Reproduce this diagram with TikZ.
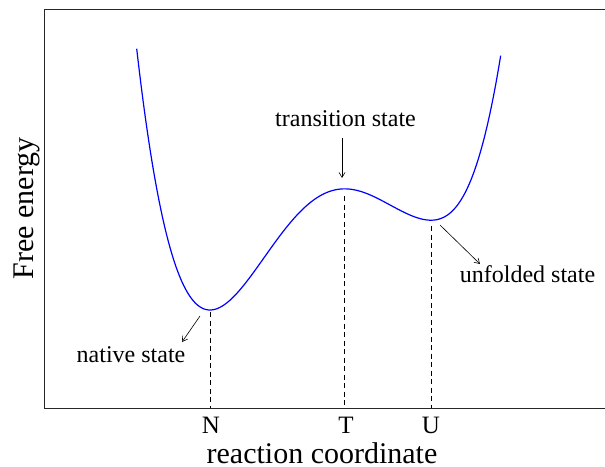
\documentclass[tikz,border=0pt]{standalone}
\usepackage{fontspec}
\setmainfont{Liberation Serif}
\usetikzlibrary{arrows.meta}
\begin{document}
\begin{tikzpicture}[x=1pt,y=-1pt,
  axisline/.style={line width=0.9pt,black!85},
  marker/.style={dashed,dash pattern=on 5pt off 3.5pt,line width=0.9pt},
  pointer/.style={line width=0.6pt,-{Straight Barb[length=5pt,width=6pt]}},
  small/.style={font=\fontsize{24}{24}\selectfont,anchor=base,inner sep=0pt},
  tick/.style={font=\fontsize{25}{25}\selectfont,anchor=base,inner sep=0pt},
  big/.style={font=\fontsize{30}{30}\selectfont,anchor=base,inner sep=0pt}]
\useasboundingbox (0,0) rectangle (605,466);
% axes box
\draw[axisline] (606,9.7) -- (44.3,9.7) -- (44.3,408) -- (606,408);
% energy curve
\draw[blue,line width=1.2pt] plot[domain=-0.733:2.908,samples=240,variable=\u]
  ({210+100*\u},{310-195.9*(0.25*\u*\u*\u*\u-1.18333*\u*\u*\u+1.4807*\u*\u)
     -7*exp(-((\u-2.21)/0.45)*((\u-2.21)/0.45))});
% key points
\coordinate (nmin) at (210,312);
\coordinate (ntop) at (210,408);
\coordinate (tmin) at (344,196);
\coordinate (ttop) at (344,406);
\coordinate (umin) at (431,226);
\coordinate (utop) at (431,408);
\draw[marker] (nmin) -- (ntop);
\draw[marker] (tmin) -- (ttop);
\draw[marker] (umin) -- (utop);
% labels
\node[small] (ts) at (345.5,126.7) {transition state};
\node[small] (ns) at (131,362) {native state};
\node[small] (us) at (527.5,282.5) {unfolded state};
\node[tick] (N) at (211,433) {N};
\node[tick] (T) at (346,433) {T};
\node[tick] (U) at (431,433) {U};
\node[big] (xl) at (322,463) {reaction coordinate};
\node[big,rotate=90] (yl) at (33.5,208.5) {Free energy};
% pointers
\coordinate (tsa) at (342,138);
\coordinate (tsb) at (342,178);
\coordinate (nsa) at (200,316);
\coordinate (nsb) at (182,342);
\coordinate (usa) at (440,225);
\coordinate (usb) at (480,264);
\draw[pointer] (tsa) -- (tsb);
\draw[pointer] (nsa) -- (nsb);
\draw[pointer] (usa) -- (usb);
\end{tikzpicture}
\end{document}
